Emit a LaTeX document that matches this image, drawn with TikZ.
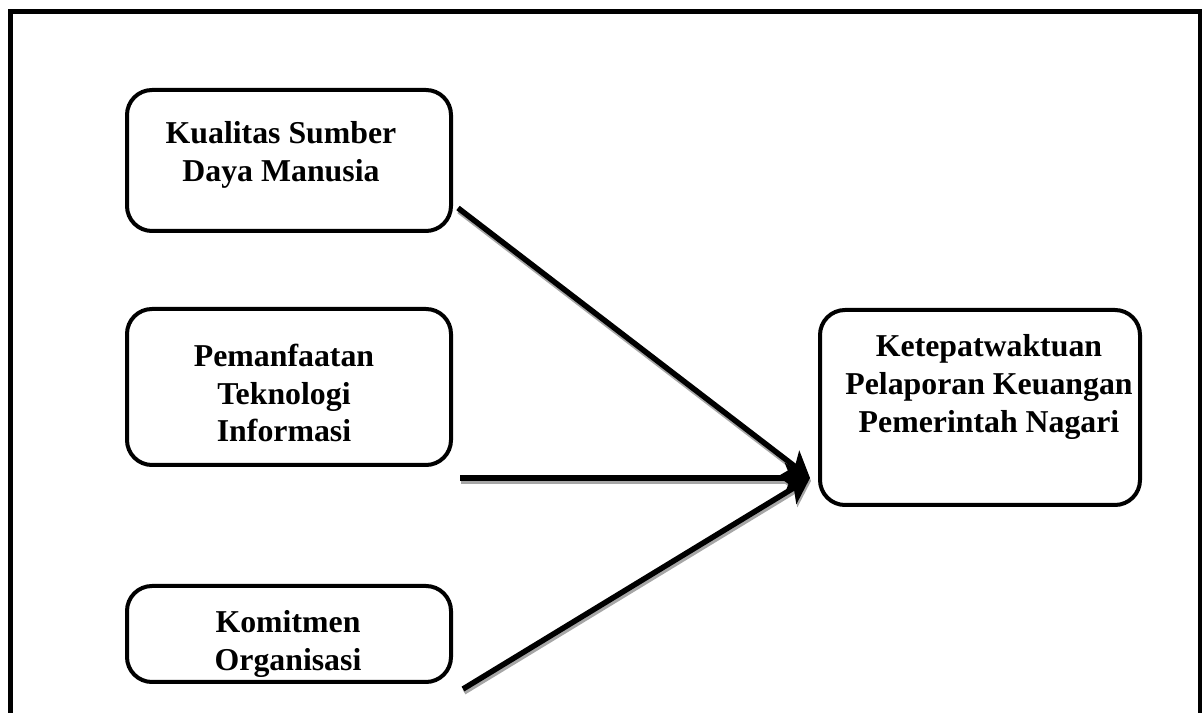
\documentclass[tikz,border=0pt]{standalone}
\usepackage{fontspec}
\setmainfont{Liberation Serif}
\usetikzlibrary{positioning, arrows.meta}

\begin{document}
\begin{tikzpicture}[
    x=1cm, y=1cm,
    every node/.style={font=\bfseries\fontsize{18.1}{21.4}\selectfont},
    box/.style={rectangle, draw, line width=0.08cm, rounded corners=0.5cm, inner sep=0pt},
    txt/.style={align=center, inner sep=0pt},
    arr/.style={-{Stealth[length=0.5cm, width=0.6cm, inset=0.12cm]}, line width=0.11cm},
    shadowarr/.style={arr, gray!70, transform canvas={shift={(0.02,-0.06)}}},
]
    \useasboundingbox (0,0) rectangle (24.04,14.26);
    % outer frame (bottom edge falls off the page)
    \draw[line width=0.1cm] (0.21,-0.4) -- (0.21,14.02) -- (24.0,14.02) -- (24.0,-0.4);

    % variables
    \node[box, minimum width=6.48cm, minimum height=2.82cm] (sdm) at (5.78, 11.05) {};
    \node[box, minimum width=6.48cm, minimum height=3.12cm] (ti)  at (5.78, 6.52) {};
    \node[box, minimum width=6.48cm, minimum height=1.92cm] (ko)  at (5.78, 1.58) {};
    \node[box, minimum width=6.40cm, minimum height=3.90cm] (kp)  at (19.6, 6.11) {};

    \node[txt] (sdmtxt) at (5.62, 11.16) {Kualitas Sumber\\Daya Manusia};
    \node[txt] (titxt)  at (5.68, 6.40)  {Pemanfaatan\\Teknologi\\Informasi};
    \node[txt] (kotxt)  at (5.76, 1.38)  {Komitmen\\Organisasi};
    \node[txt] (kptxt)  at (19.78, 6.52) {Ketepatwaktuan\\Pelaporan Keuangan\\Pemerintah Nagari};

    % arrow ends
    \coordinate (s1) at (9.16, 10.10);
    \coordinate (s2) at (9.20, 4.70);
    \coordinate (s3) at (9.26, 0.48);
    \coordinate (tip) at (16.2, 4.70);

    \draw[shadowarr] (s1) -- (tip);
    \draw[shadowarr] (s2) -- (tip);
    \draw[shadowarr] (s3) -- (tip);
    \draw[arr] (s1) -- (tip);
    \draw[arr] (s2) -- (tip);
    \draw[arr] (s3) -- (tip);
\end{tikzpicture}
\end{document}
